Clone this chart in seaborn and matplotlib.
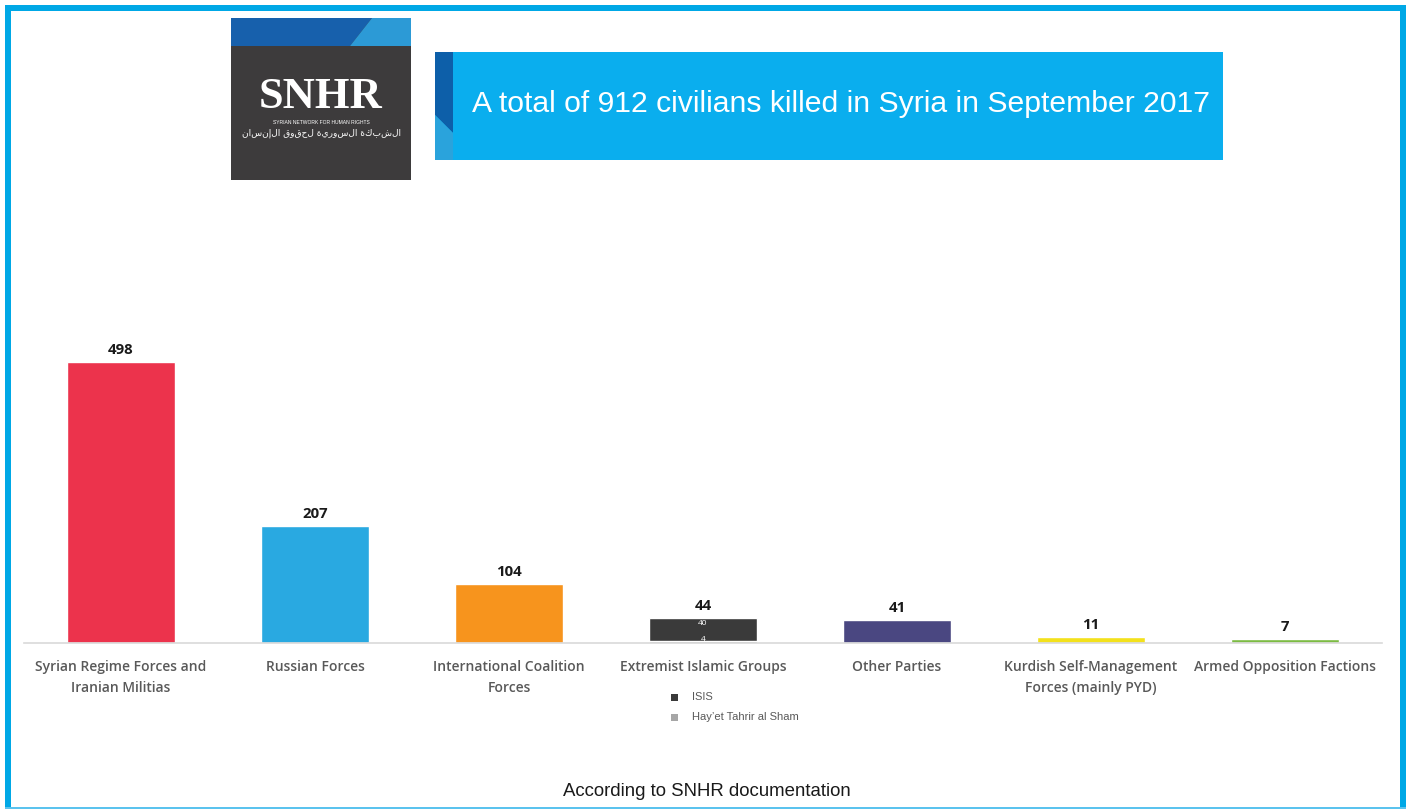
import matplotlib
matplotlib.use("Agg")
import matplotlib.pyplot as plt
import seaborn as sns
import pandas as pd
from matplotlib.patches import Rectangle, Polygon

categories = ["Syrian Regime Forces and\nIranian Militias", "Russian Forces",
              "International Coalition\nForces", "Extremist Islamic Groups",
              "Other Parties", "Kurdish Self-Management\nForces (mainly PYD)",
              "Armed Opposition Factions"]
totals = [498, 207, 104, 44, 41, 11, 7]
isis = 40
hts = 4
bar_colors = ["#ec334c", "#29a9e1", "#f7941d", "#3a3a3a", "#4a4781", "#f3e11b", "#7cbb43"]
title = "A total of 912 civilians killed in Syria in September 2017"
footer = "According to SNHR documentation"
legend_labels = ["ISIS", "Hay\u2019et Tahrir al Sham"]

W, H = 1406, 809
sns.set_theme(style="white")
plt.rcParams["font.family"] = ["Open Sans", "DejaVu Sans"]
fig = plt.figure(figsize=(W / 100, H / 100), dpi=100)

def fx(x):
    return x / W

def fy(y):
    return 1 - y / H

def rect(x0, y0, x1, y1, color, z=1):
    fig.patches.append(Rectangle((fx(x0), fy(y1)), fx(x1) - fx(x0), fy(y0) - fy(y1),
                                 transform=fig.transFigure, color=color, zorder=z, lw=0))

def poly(pts, color, z=2):
    fig.patches.append(Polygon([(fx(x), fy(y)) for x, y in pts], closed=True,
                               transform=fig.transFigure, color=color, zorder=z, lw=0))

# border
border = "#00a8e6"
rect(5, 5, 1406, 11, border)
rect(5, 5, 11, 809, border)
rect(1400, 5, 1406, 809, border)
rect(5, 807, 1406, 809, "#5bc3ee")

# main axes
ax = fig.add_axes([fx(24), fy(643), fx(1382) - fx(24), (643 - 333) / H])
df = pd.DataFrame({"cat": categories, "val": totals})
sns.barplot(data=df, x="cat", y="val", hue="cat", palette=bar_colors, order=categories,
            width=0.557, legend=False, ax=ax, saturation=1)
hts_vals = [0, 0, 0, hts, 0, 0, 0]
df2 = pd.DataFrame({"cat": categories, "val": hts_vals})
sns.barplot(data=df2, x="cat", y="val", color="#a6a6a6", order=categories,
            width=0.557, ax=ax, saturation=1)
ax.set_ylim(0, 550)
ax.set_xlim(-0.5, 6.5)
ax.set_xlabel("")
ax.set_ylabel("")
ax.set_yticks([])
for s in ["top", "right", "left"]:
    ax.spines[s].set_visible(False)
ax.spines["bottom"].set_color("#d9d9d9")
ax.spines["bottom"].set_linewidth(1.2)
ax.tick_params(axis="x", length=0, pad=12)
ax.set_xticks(range(len(categories)))
ax.set_xticklabels(categories, fontsize=10, color="#595959", fontweight="semibold",
                   linespacing=1.65)
for i, v in enumerate(totals):
    ax.text(i, v + 9, str(v), ha="center", va="bottom", fontsize=10.8,
            fontweight="bold", color="#1a1a1a")
ax.text(3, hts + isis * 0.75, str(isis), ha="center", va="center", fontsize=6,
        color="white")
ax.text(3, hts + 2, str(hts), ha="center", va="center", fontsize=6, color="white")

# legend under extremist group
for yy, col, lab in [(697, "#3a3a3a", legend_labels[0]), (717, "#a6a6a6", legend_labels[1])]:
    rect(671, yy - 3.5, 678, yy + 3.5, col, z=3)
    fig.text(fx(692), fy(yy), lab, ha="left", va="center", fontsize=8,
             color="#595959", family=["Liberation Sans", "DejaVu Sans"])

# logo
rect(231, 18, 411, 180, "#3d3b3c")
poly([(231, 18), (372, 18), (350, 46), (231, 46)], "#1760ac")
poly([(372, 18), (411, 18), (411, 46), (350, 46)], "#2c9ad6")
fig.text(fx(321), fy(97), "SNHR", ha="center", va="center", fontsize=32,
         fontweight="bold", color="white", family=["Liberation Serif", "DejaVu Serif"])
fig.text(fx(321), fy(122), "SYRIAN NETWORK FOR HUMAN RIGHTS", ha="center",
         va="center", fontsize=3.6, color="white", family=["Liberation Sans", "DejaVu Sans"])
arabic = "الشبكة السورية لحقوق الإنسان"
fig.text(fx(321), fy(133), arabic[::-1], ha="center", va="center", fontsize=6.5,
         color="white", family=["DejaVu Sans"])

# title banner
rect(435, 52, 1223, 160, "#0aaeee")
poly([(435, 52), (453, 52), (453, 133), (435, 115)], "#0d5fa9", z=3)
poly([(435, 115), (453, 133), (453, 160), (435, 160)], "#2aa3dc", z=3)
fig.text(fx(472), fy(104), title, ha="left", va="center", fontsize=21.7,
         color="white", family=["Liberation Sans", "DejaVu Sans"])

fig.text(fx(707), fy(792), footer, ha="center", va="center", fontsize=13.4,
         color="#1a1a1a", family=["Liberation Sans", "DejaVu Sans"])

fig.savefig("out.png", dpi=100)
